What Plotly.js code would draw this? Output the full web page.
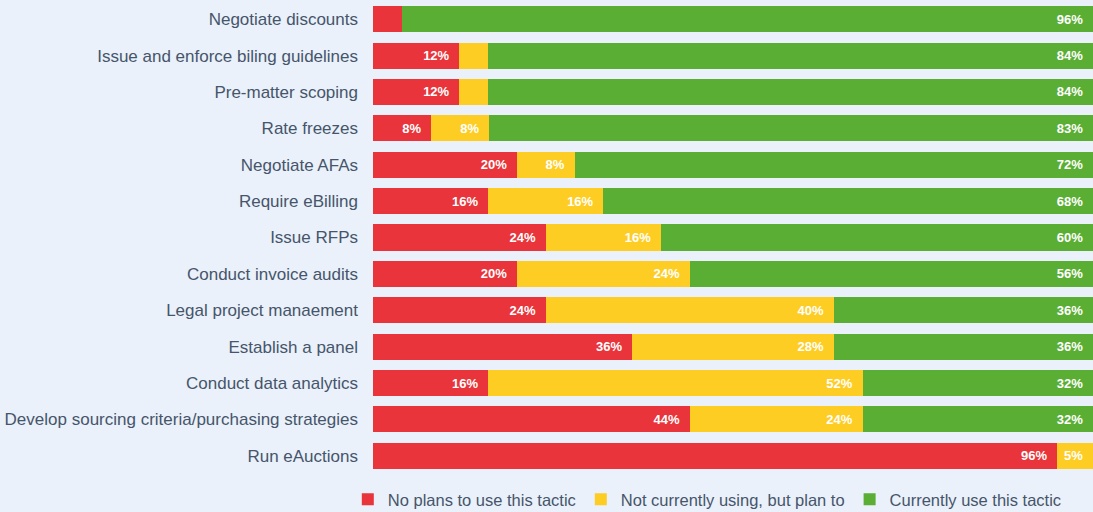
<!DOCTYPE html>
<html><head><meta charset="utf-8">
<script src="https://cdn.plot.ly/plotly-3.0.1.min.js"></script>
<style>html,body{margin:0;padding:0;background:#eaf1fa;}#chart{width:1093px;height:512px;}</style>
</head><body><div id="chart"></div>
<script>
const categories = [
  "Negotiate discounts",
  "Issue and enforce biling guidelines",
  "Pre-matter scoping",
  "Rate freezes",
  "Negotiate AFAs",
  "Require eBilling",
  "Issue RFPs",
  "Conduct invoice audits",
  "Legal project manaement",
  "Establish a panel",
  "Conduct data analytics",
  "Develop sourcing criteria/purchasing strategies",
  "Run eAuctions"
];
const noPlans      = [4, 12, 12, 8, 20, 16, 24, 20, 24, 36, 16, 44, 96];
const planTo       = [0, 4, 4, 8, 8, 16, 16, 24, 40, 28, 52, 24, 5];
const currentlyUse = [96, 84, 84, 83, 72, 68, 60, 56, 36, 36, 32, 32, 0];
// labels shown on segments (small unlabeled segments left blank)
const noPlansLabels = ["", "12%", "12%", "8%", "20%", "16%", "24%", "20%", "24%", "36%", "16%", "44%", "96%"];
const planToLabels  = ["", "", "", "8%", "8%", "16%", "16%", "24%", "40%", "28%", "52%", "24%", "5%"];
const currentLabels = ["96%", "84%", "84%", "83%", "72%", "68%", "60%", "56%", "36%", "36%", "32%", "32%", ""];
const seriesNames = ["No plans to use this tactic", "Not currently using, but plan to", "Currently use this tactic"];
const colors = ["#e8343a", "#fecd23", "#59ae33"];

const pad = "\u00a0\u00a0";
const mk = (vals, labels, name, color, padding) => ({
  type: "bar", orientation: "h", y: categories, x: vals, name: name,
  text: labels.map(t => t ? t + padding : ""), texttemplate: "%{text}", textposition: "inside", insidetextanchor: "end",
  textfont: {color: "#ffffff", size: 13, family: "Liberation Sans, Arial, sans-serif", weight: "bold"},
  marker: {color: color, line: {width: 0}},
  hoverinfo: "skip", cliponaxis: false
});
const data = [
  mk(noPlans, noPlansLabels, seriesNames[0], colors[0], pad),
  mk(planTo, planToLabels, seriesNames[1], colors[1], pad),
  mk(currentlyUse, currentLabels, seriesNames[2], colors[2], pad)
];
const layout = {
  width: 1093, height: 512,
  paper_bgcolor: "#eaf1fa", plot_bgcolor: "#eaf1fa",
  barmode: "stack", barnorm: "percent", bargap: 0.285,
  margin: {l: 373, r: 0, t: 1, b: 38, autoexpand: false},
  font: {family: "Liberation Sans, Arial, sans-serif", color: "#46556b"},
  xaxis: {range: [0, 100.01], visible: false, fixedrange: true},
  yaxis: {autorange: "reversed", showgrid: false, zeroline: false, showline: false,
          ticks: "", ticklabelstandoff: 14, tickfont: {size: 17, color: "#46556b"}},
  showlegend: true,
  legend: {orientation: "h", x: -0.035, xanchor: "left", y: -0.054, yanchor: "middle",
           font: {size: 16.5, color: "#46556b"}, itemwidth: 30, traceorder: "normal",
           bgcolor: "rgba(0,0,0,0)"},
  uniformtext: {mode: false}
};
Plotly.newPlot("chart", data, layout, {displayModeBar: false, staticPlot: true});
</script></body></html>
